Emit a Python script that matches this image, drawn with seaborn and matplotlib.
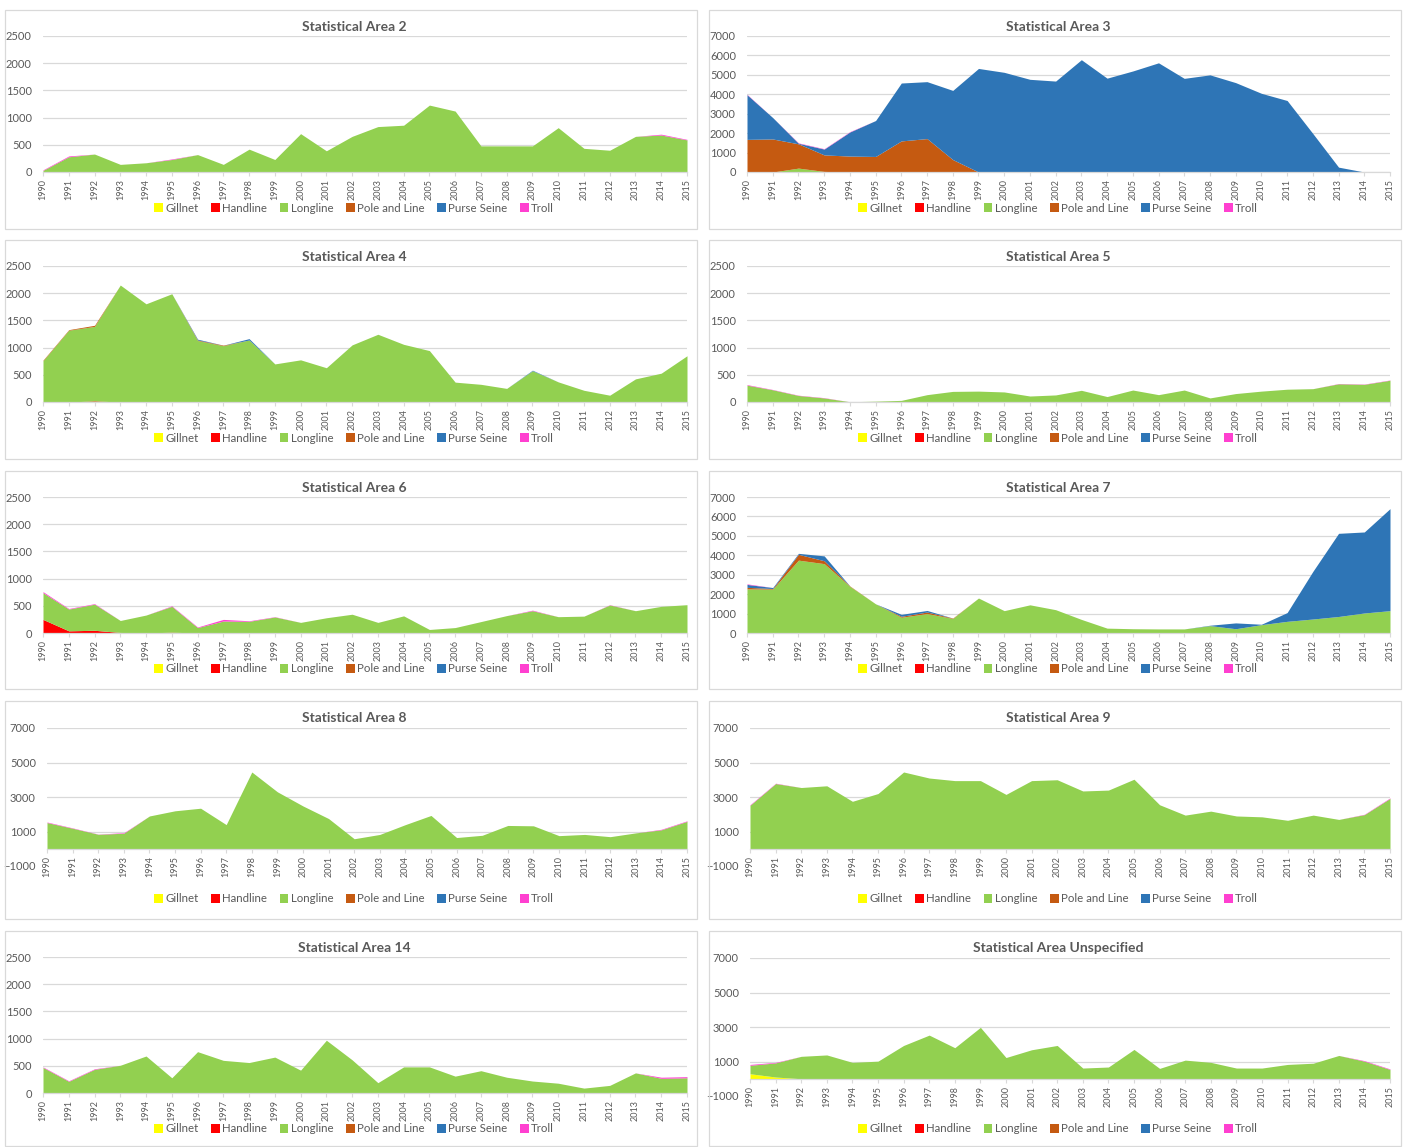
import matplotlib.pyplot as plt
import numpy as np
import pandas as pd
import seaborn as sns
from matplotlib.patches import Patch, Rectangle

years = list(range(1990, 2016))
gears = ["Gillnet", "Handline", "Longline", "Pole and Line", "Purse Seine", "Troll"]
gear_colors = ["#FFFF00", "#FF0000", "#92D050", "#C55A11", "#2E75B6", "#FF40D0"]

# catch per gear (tonnes)
a2_longline = [30, 280, 330, 140, 170, 230, 320, 140, 420, 230, 705, 390, 655,
               835, 860, 1230, 1120, 480, 480, 480, 815, 435, 400, 655, 680, 590]
a2_troll = [10, 15, 0, 0, 0, 10, 0, 0, 0, 0, 0, 0, 0,
            0, 0, 0, 0, 0, 0, 0, 0, 0, 0, 0, 15, 10]

a3_longline = [0, 0, 200, 30, 0, 0, 0, 0, 0, 0, 0, 0, 0,
               0, 0, 0, 0, 0, 0, 0, 0, 0, 0, 0, 0, 0]
a3_pole = [1680, 1700, 1250, 850, 820, 800, 1600, 1720, 640, 0, 0, 0, 0,
           0, 0, 0, 0, 0, 0, 0, 0, 0, 0, 0, 0, 0]
a3_purse = [2300, 1100, 30, 300, 1240, 1850, 2980, 2930, 3560, 5330, 5130, 4770, 4680,
            5780, 4830, 5200, 5620, 4820, 5000, 4600, 4050, 3680, 1980, 250, 0, 0]
a3_troll = [20, 0, 20, 20, 20, 0, 0, 0, 0, 0, 0, 0, 0,
            0, 0, 0, 0, 0, 0, 0, 0, 0, 0, 0, 0, 0]

a4_handline = [0, 0, 20, 0, 0, 0, 0, 0, 0, 0, 0, 0, 0,
               0, 0, 0, 0, 0, 0, 0, 0, 0, 0, 0, 0, 0]
a4_longline = [760, 1320, 1370, 2150, 1805, 1990, 1130, 1035, 1140, 700, 775, 630, 1050,
               1245, 1060, 945, 365, 325, 250, 575, 370, 215, 125, 425, 530, 850]
a4_pole = [10, 10, 20, 0, 0, 0, 10, 10, 0, 0, 0, 0, 0,
           0, 0, 0, 0, 0, 0, 0, 0, 0, 0, 0, 0, 0]
a4_purse = [0, 0, 0, 0, 0, 0, 15, 0, 25, 0, 0, 0, 0,
            0, 0, 0, 0, 0, 0, 10, 0, 0, 0, 0, 0, 0]

a5_longline = [310, 225, 120, 75, 5, 15, 30, 135, 195, 200, 185, 110, 130,
               215, 100, 220, 135, 220, 75, 155, 200, 235, 245, 335, 325, 400]
a5_troll = [10, 5, 5, 5, 0, 0, 0, 0, 0, 0, 0, 0, 0,
            0, 0, 0, 0, 0, 0, 0, 0, 0, 0, 5, 5, 5]

a6_handline = [250, 40, 50, 10, 0, 15, 0, 0, 0, 0, 0, 0, 0,
               0, 0, 0, 0, 0, 0, 0, 0, 0, 0, 0, 0, 0]
a6_longline = [490, 400, 480, 220, 330, 475, 100, 220, 215, 295, 195, 280, 345,
               195, 315, 65, 100, 210, 320, 410, 300, 310, 515, 410, 490, 520]
a6_troll = [20, 10, 10, 0, 0, 10, 10, 30, 10, 5, 0, 0, 0,
            0, 0, 0, 0, 0, 0, 10, 0, 0, 5, 0, 0, 0]

a7_handline = [20, 10, 20, 10, 0, 0, 10, 20, 0, 0, 0, 0, 0,
               0, 0, 0, 0, 0, 0, 0, 0, 0, 0, 0, 0, 0]
a7_longline = [2250, 2250, 3730, 3560, 2400, 1500, 800, 980, 750, 1800, 1150, 1450, 1200,
               700, 250, 220, 210, 210, 380, 220, 430, 600, 720, 850, 1030, 1150]
a7_pole = [80, 30, 300, 150, 20, 0, 50, 80, 20, 0, 0, 0, 0,
           0, 0, 0, 0, 0, 0, 0, 0, 0, 0, 0, 0, 0]
a7_purse = [150, 50, 50, 250, 0, 0, 100, 80, 0, 0, 0, 0, 0,
            0, 0, 0, 0, 0, 20, 300, 20, 450, 2450, 4280, 4170, 5250]
a7_troll = [30, 0, 0, 0, 0, 0, 0, 0, 0, 0, 0, 0, 0,
            0, 0, 0, 0, 0, 0, 0, 0, 0, 0, 0, 0, 0]

a8_longline = [1520, 1190, 840, 900, 1900, 2200, 2350, 1400, 4450, 3300, 2480, 1750, 580,
               830, 1400, 1930, 650, 780, 1350, 1330, 760, 830, 700, 920, 1100, 1590]
a8_troll = [30, 20, 10, 30, 0, 0, 0, 0, 0, 0, 0, 0, 0,
            0, 0, 0, 0, 0, 0, 0, 0, 0, 0, 0, 30, 30]

a9_longline = [2520, 3780, 3550, 3650, 2750, 3200, 4450, 4100, 3950, 3950, 3150, 3950, 4000,
               3350, 3400, 4030, 2550, 1950, 2180, 1900, 1850, 1650, 1950, 1700, 1980, 2920]
a9_troll = [30, 20, 0, 0, 0, 0, 0, 0, 0, 0, 0, 0, 0,
            0, 0, 0, 0, 0, 0, 0, 0, 0, 0, 0, 20, 30]

a14_gillnet = [10, 0, 0, 0, 0, 0, 0, 0, 0, 0, 0, 0, 0,
               0, 0, 0, 0, 0, 0, 0, 0, 0, 0, 0, 0, 0]
a14_longline = [460, 215, 435, 510, 680, 280, 760, 600, 560, 660, 420, 970, 610,
                190, 480, 480, 310, 410, 290, 220, 180, 90, 140, 370, 270, 280]
a14_troll = [10, 10, 10, 0, 0, 0, 0, 0, 0, 0, 0, 0, 0,
             0, 0, 0, 0, 0, 0, 0, 0, 0, 0, 0, 20, 20]

au_gillnet = [290, 100, 0, 0, 0, 0, 0, 0, 0, 0, 0, 0, 0,
              0, 0, 0, 0, 0, 0, 0, 0, 0, 0, 0, 0, 0]
au_longline = [490, 820, 1300, 1380, 950, 1020, 1930, 2530, 1800, 2980, 1230, 1680, 1930,
               620, 680, 1700, 600, 1080, 950, 620, 620, 830, 900, 1350, 1020, 540]
au_troll = [50, 30, 0, 0, 0, 0, 0, 0, 0, 0, 0, 0, 0,
            0, 0, 0, 0, 0, 0, 0, 0, 0, 0, 0, 30, 30]

small = dict(ylim=(0, 2500), yticks=[0, 500, 1000, 1500, 2000, 2500])
big = dict(ylim=(0, 7000), yticks=list(range(0, 7001, 1000)))
neg = dict(ylim=(-1000, 7000), yticks=[-1000, 1000, 3000, 5000, 7000])

panels = [
    ("Statistical Area 2", {"Longline": a2_longline, "Troll": a2_troll}, small),
    ("Statistical Area 3", {"Longline": a3_longline, "Pole and Line": a3_pole,
                            "Purse Seine": a3_purse, "Troll": a3_troll}, big),
    ("Statistical Area 4", {"Handline": a4_handline, "Longline": a4_longline,
                            "Pole and Line": a4_pole, "Purse Seine": a4_purse}, small),
    ("Statistical Area 5", {"Longline": a5_longline, "Troll": a5_troll}, small),
    ("Statistical Area 6", {"Handline": a6_handline, "Longline": a6_longline,
                            "Troll": a6_troll}, small),
    ("Statistical Area 7", {"Handline": a7_handline, "Longline": a7_longline,
                            "Pole and Line": a7_pole, "Purse Seine": a7_purse,
                            "Troll": a7_troll}, big),
    ("Statistical Area 8", {"Longline": a8_longline, "Troll": a8_troll}, neg),
    ("Statistical Area 9", {"Longline": a9_longline, "Troll": a9_troll}, neg),
    ("Statistical Area 14", {"Gillnet": a14_gillnet, "Longline": a14_longline,
                             "Troll": a14_troll}, small),
    ("Statistical Area Unspecified", {"Gillnet": au_gillnet, "Longline": au_longline,
                                      "Troll": au_troll}, neg),
]

sns.set_theme(style="white")
plt.rcParams['font.family'] = ['Lato', 'DejaVu Sans']
grey = "#595959"
line = "#D9D9D9"

W, H = 1407, 1147
fig = plt.figure(figsize=(W / 100, H / 100), dpi=100)

box_left = [5, 709]
box_w = 692
box_top = [10, 240, 471, 701, 931]
box_bot = [229, 459, 689, 919, 1146]

for i, (title, series, axis) in enumerate(panels):
    row, col = divmod(i, 2)
    bx, by0, by1 = box_left[col], box_top[row], box_bot[row]
    fig.add_artist(Rectangle((bx / W, 1 - by1 / H), box_w / W, (by1 - by0) / H,
                             transform=fig.transFigure, fill=False,
                             edgecolor=line, lw=0.9))

    if axis is neg:
        x0 = [47, 750][col]
        top, bottom = by0 + 27, by0 + 165
    else:
        x0 = [43, 747][col]
        top, bottom = by0 + 26, by0 + 162
    x1 = [687, 1390][col]
    ax = fig.add_axes([x0 / W, 1 - bottom / H, (x1 - x0) / W, (bottom - top) / H])

    df = pd.DataFrame(series, index=years).reindex(columns=gears, fill_value=0)
    ax.stackplot(df.index, df.T.values, colors=gear_colors, linewidth=0)

    for s in ["top", "right", "left"]:
        ax.spines[s].set_visible(False)
    ax.spines["bottom"].set_position(("data", 0))
    ax.spines["bottom"].set_color(line)
    ax.spines["bottom"].set_linewidth(0.9)

    ax.set_xlim(1990, 2015)
    ax.set_ylim(*axis["ylim"])
    ax.set_yticks(axis["yticks"])
    ax.set_xticks(years)
    ax.set_xticklabels([str(y) for y in years])
    ax.grid(axis="y", color=line, lw=0.9)
    ax.grid(axis="x", visible=False)
    if axis is neg:
        ax.yaxis.get_gridlines()[0].set_visible(False)
    ax.set_axisbelow(True)
    ax.tick_params(axis="x", bottom=True, length=3, width=0.8, color=line,
                   labelsize=6.5, labelcolor=grey, pad=2, labelrotation=90)
    ax.tick_params(axis="y", left=False, length=0, labelsize=8, labelcolor=grey, pad=8)

    cx = (bx + box_w / 2 + 3) / W
    fig.text(cx, 1 - (by0 + 17) / H, title, ha="center", va="center",
             fontsize=10, fontweight="bold", color=grey)

    handles = [Patch(facecolor=c, edgecolor="none", label=g)
               for g, c in zip(gears, gear_colors)]
    fig.legend(handles=handles, loc="center", bbox_to_anchor=(cx, 1 - (by0 + 198) / H),
               ncol=6, frameon=False, fontsize=8.3, labelcolor=grey,
               handlelength=0.75, handleheight=0.75, handletextpad=0.2,
               columnspacing=1.1, borderaxespad=0)

fig.savefig("out.png", dpi=100, facecolor="white")
